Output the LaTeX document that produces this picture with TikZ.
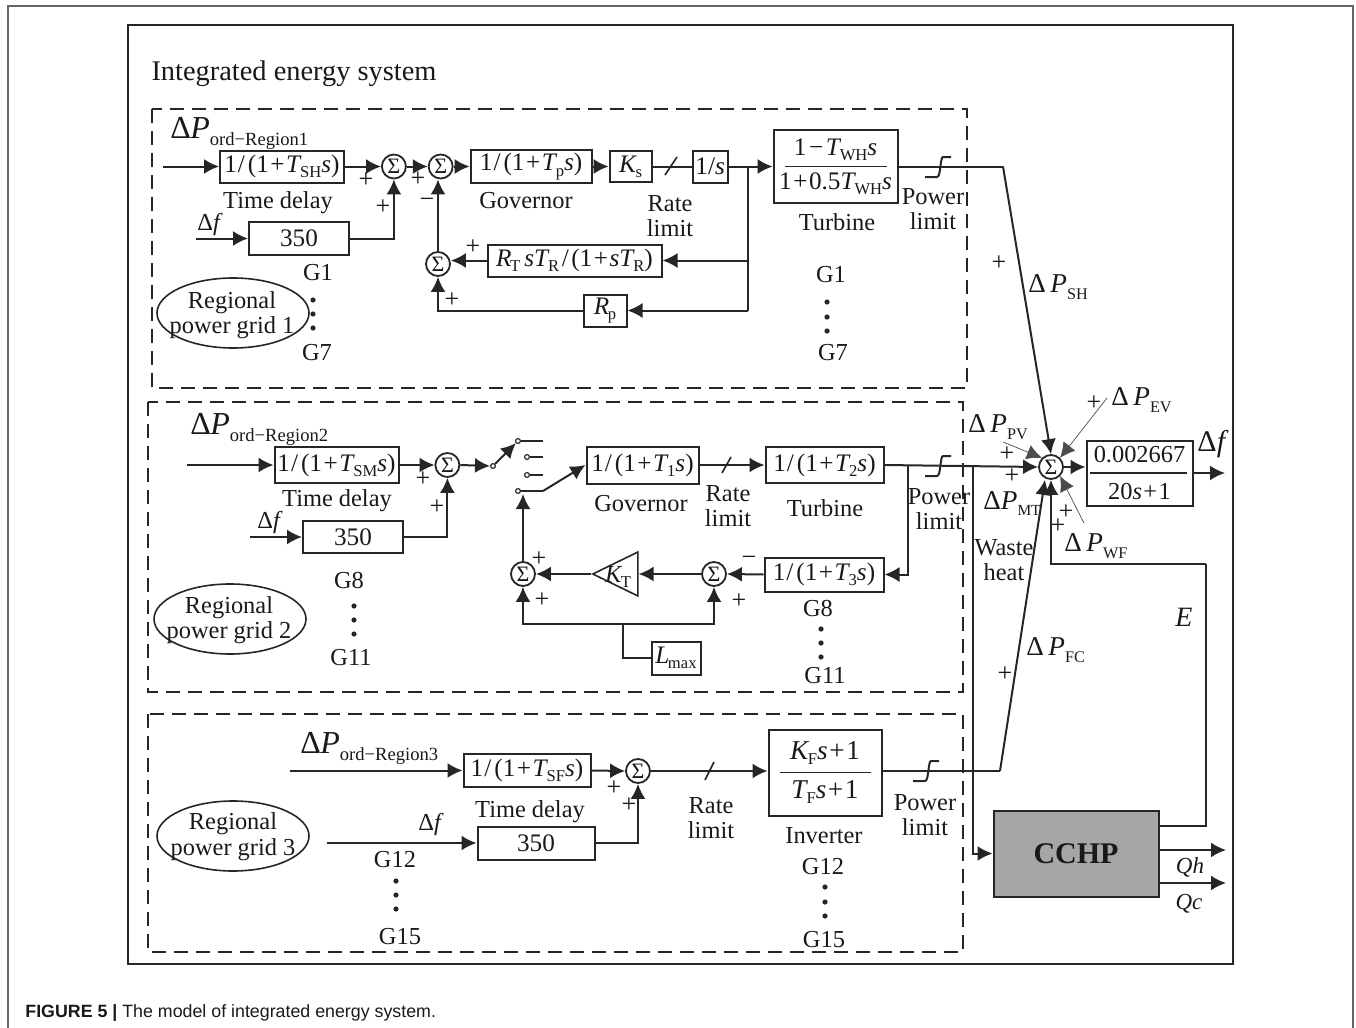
\documentclass[tikz,border=0pt]{standalone}
\usepackage{fontspec}
\setmainfont{Liberation Serif}
\setsansfont{Liberation Sans}
\usetikzlibrary{shapes.geometric, arrows.meta, positioning, calc}
\newcommand{\lowtxt}[1]{\raisebox{-0.45ex}{\fontsize{8.3}{9}\selectfont #1}}
\newcommand{\varsub}[2]{\textit{#1}\kern-0.06em\lowtxt{#2}}
\newcommand{\tplus}{\kern0.06em+\kern0.06em}
\newcommand{\lagtxt}[2]{1\kern0.04em/\kern0.12em(1\tplus\varsub{#1}{#2}\textit{s})}
\newcommand{\bigdelta}[1]{{\fontsize{16}{18}\selectfont Δ\kern-0.02em\textit{P}}\raisebox{-0.6ex}{\fontsize{9.3}{10}\selectfont ord−Region#1}}
\newcommand{\smalldelta}[1]{{\fontsize{13.6}{17}\selectfont Δ\,\textit{P}}\raisebox{-0.6ex}{\fontsize{8.1}{9}\selectfont #1}}
\newcommand{\powerlimit}[2]{\draw[wire] (#1,#2) -- ++(12,0) .. controls +(4,0) and +(-3,0) .. ++(6,-20) -- ++(8,0);}
\begin{document}
\begin{tikzpicture}[x=0.5pt, y=-0.5pt,
            every node/.style={inner sep=0pt, text=black!90, font=\fontsize{12.2}{14}\selectfont},
            block/.style={rectangle, draw=black!85, line width=1pt, fill=white, align=center, font=\fontsize{12.6}{14}\selectfont},
            sumnode/.style={circle, draw=black!85, line width=0.9pt, fill=white, minimum size=12pt, font=\fontsize{11}{12}\selectfont},
            gridnode/.style={ellipse, draw=black!85, line width=0.8pt, minimum width=76pt, minimum height=35pt},
            contact/.style={circle, draw=black!85, line width=0.6pt, fill=white, minimum size=2.4pt},
            dotnode/.style={circle, fill=black!85, minimum size=2.6pt},
            lbl/.style={align=center, yshift=-1.2pt},
            sign/.style={font=\fontsize{13}{14}\selectfont},
            region/.style={draw=black!85, line width=0.8pt, dash pattern=on 7pt off 4pt},
            wire/.style={draw=black!85, line width=1pt},
            flow/.style={wire, -{Latex[length=7.5pt,width=7.5pt]}},
            thinflow/.style={draw=black!70, line width=0.35pt, -{Latex[length=7.5pt,width=7.5pt]}}]

        \useasboundingbox (0,0) rectangle (1356,1028);
        \draw[draw=black!60, line width=0.6pt] (8,1028) -- (8,6) -- (1353,6) -- (1353,1028);
        \draw[draw=black!85, line width=1pt] (128,25) rectangle (1233,964);
        \node[lbl, font=\fontsize{14.2}{15}\selectfont] (title) at (294,71) {Integrated energy system};
        \node[font=\sffamily\fontsize{8.9}{10}\selectfont, anchor=west] (caption) at (25,1013) {\textbf{FIGURE 5 |} The model of integrated energy system.};

        % Regions
        \draw[region] (152,109) rectangle (967,388);
        \draw[region] (148,402) rectangle (963,692);
        \draw[region] (148,714) rectangle (963,952);

        % Region 1 forward path
        \node[block, minimum width=62pt, minimum height=16pt] (delayA) at (282,166.5) {\lagtxt{T}{SH}};
        \node[sumnode, right=18pt of delayA] (sumA) {Σ};
        \node[sumnode, right=10.5pt of sumA] (sumB) {Σ};
        \node[block, right=8pt of sumB, minimum width=60.5pt, minimum height=16.5pt] (govA) {\lagtxt{T}{p}};
        \node[block, right=8pt of govA, minimum width=21pt, minimum height=15.5pt] (gainA) {\varsub{K}{s}};
        \node[block, right=19.5pt of gainA, minimum width=17.5pt, minimum height=16pt] (intA) {1/\textit{s}};
        \node[block, right=22pt of intA, minimum width=62pt, minimum height=36.5pt] (turbA) {\rule[-1.1ex]{0pt}{0pt}1\kern0.1em−\kern0.1em\varsub{T}{WH}\textit{s}\\[1.2pt]1\tplus0.5\varsub{T}{WH}\textit{s}};
        \draw[wire, line width=0.6pt] ([xshift=6pt]turbA.west) -- ([xshift=-6pt]turbA.east);
        \node[block, minimum width=50pt, minimum height=16.5pt] (gainF) at (299,238.5) {350};

        % Region 1 feedback
        \node[block, minimum width=87pt, minimum height=16pt] (fbA) at (574.5,260.5) {\varsub{R}{T}\,\textit{s}\varsub{T}{R}\kern0.1em/\kern0.1em(1\tplus\textit{s}\varsub{T}{R})};
        \node[block, minimum width=21.5pt, minimum height=16pt] (droopA) at (605,310.5) {\varsub{R}{p}};
        \node[sumnode] (sumC) at (438,264) {Σ};
        \node[gridnode] (gridA) at (233,313) {};
        \node[lbl] (gridAa) at (232,300) {Regional};
        \node[lbl] (gridAb) at (232,325) {power grid 1};

        \coordinate (inA) at (163,166.5);
        \coordinate (inF) at (196,238.5);
        \coordinate (tapA) at (748,166.5);
        \coordinate (outA) at (1003,166.5);
        \draw[flow] (inA) -- (delayA.west);
        \draw[flow] (delayA.east) -- (sumA.west);
        \draw[flow] (sumA.east) -- (sumB.west);
        \draw[flow] (sumB.east) -- (govA.west);
        \draw[flow] (govA.east) -- (gainA.west);
        \draw[wire] (gainA.east) -- (intA.west);
        \draw[flow] (intA.east) -- (turbA.west);
        \draw[flow] (inF) -- (gainF.west);
        \draw[flow] (gainF.east) -| (sumA.south);
        \draw[wire] (tapA) -- (tapA |- droopA.east);
        \draw[flow] (tapA |- fbA.east) -- (fbA.east);
        \draw[flow] (tapA |- droopA.east) -- (droopA.east);
        \draw[flow] (fbA.west) -- (sumC.east |- fbA.west);
        \draw[flow] (droopA.west) -| (sumC.south);
        \draw[flow] (sumC.north) -- (sumC.north |- sumB.south);
        \draw[wire, line width=0.8pt] (665,175) -- (677,157);
        \powerlimit{925}{177}

        % Region 1 labels
        \node[lbl, anchor=west] (refA) at (170,131) {\bigdelta{1}};
        \node[lbl] (tdA) at (278,200) {Time delay};
        \node[lbl] (lfA) at (210,222) {Δ\textit{f}};
        \node[lbl] (lgA) at (526,198) {Governor};
        \node[lbl] (rlA) at (670,214) {Rate\\[-1.5pt]limit};
        \node[lbl] (ltA) at (837,220) {Turbine};
        \node[lbl] (plA) at (933,207) {Power\\[-1.5pt]limit};
        \node[lbl] (gaA) at (318,270) {G1};
        \node[lbl] (gbA) at (317,350) {G7};
        \node[lbl] (gaB) at (831,272) {G1};
        \node[lbl] (gbB) at (833,350) {G7};
        \foreach \dx/\dy in {313/300, 313/314, 313/328, 827/302, 827/317, 827/331,
                             354/606, 354/620, 354/634, 821/629, 821/643, 821/657,
                             396/881, 396/895, 396/909, 825/887, 825/902, 825/916}
            \node[dotnode] (dot\dx-\dy) at (\dx,\dy) {};
        \node[sign] (pa) at (366,180) {+};
        \node[sign] (pb) at (383,207) {+};
        \node[sign] (pc) at (418,179) {+};
        \node[sign] (pd) at (427,203) {−};
        \node[sign] (pe) at (473,247) {+};
        \node[sign] (pf) at (452,300) {+};

        % Region 2 forward path
        \node[block, minimum width=62pt, minimum height=18pt] (delayB) at (336.5,465) {\lagtxt{T}{SM}};
        \node[sumnode, right=17.5pt of delayB] (sumD) {Σ};
        \node[block, minimum width=56pt, minimum height=18.5pt] (govB) at (642.5,465) {\lagtxt{T}{1}};
        \node[block, minimum width=59pt, minimum height=18pt] (turbB) at (824.5,465) {\lagtxt{T}{2}};
        \node[block, minimum width=50pt, minimum height=16pt] (gainG) at (353,537) {350};

        % Switch
        \node[contact] (swIn) at (493,466) {};
        \node[contact] (swA) at (518,441) {};
        \node[contact] (swB) at (527,457) {};
        \node[contact] (swC) at (527,475) {};
        \node[contact] (swD) at (518,491) {};
        \coordinate (swAe) at (543,441);
        \coordinate (swBe) at (543,457);
        \coordinate (swCe) at (543,475);
        \coordinate (swDe) at (543,491);
        \draw[wire] (swA) -- (swAe);
        \draw[wire] (swB) -- (swBe);
        \draw[wire] (swC) -- (swCe);
        \draw[wire] (swD) -- (swDe);
        \draw[flow] (swIn) -- (swA);
        \draw[flow] (swDe) -- (govB.west);

        % Region 2 feedback
        \node[block, minimum width=59.5pt, minimum height=17pt] (fbB) at (824,574.5) {\lagtxt{T}{3}};
        \node[sumnode] (sumE) at (714,574) {Σ};
        \node[isosceles triangle, isosceles triangle apex angle=52, shape border rotate=180, draw=black!85, line width=0.8pt, fill=white, minimum height=22.5pt, anchor=apex] (ampB) at (591,574) {};
        \node[lbl] (ampBt) at (618,575) {\varsub{K}{T}};
        \node[sumnode] (sumF) at (523,574) {Σ};
        \node[block, minimum width=24.5pt, minimum height=16.5pt] (limB) at (676,658) {\varsub{L}{max}};
        \node[gridnode] (gridB) at (230,619) {};
        \node[lbl] (gridBa) at (229,605) {Regional};
        \node[lbl] (gridBb) at (229,630) {power grid 2};

        \coordinate (inB) at (187,465);
        \coordinate (inG) at (250,537);
        \coordinate (tapB) at (908,465);
        \coordinate (midB) at (623,624);
        \draw[flow] (inB) -- (delayB.west);
        \draw[flow] (delayB.east) -- (sumD.west);
        \draw[flow] (sumD.east) -- (swIn.west);
        \draw[flow] (inG) -- (gainG.west);
        \draw[flow] (gainG.east) -| (sumD.south);
        \draw[flow] (govB.east) -- (turbB.west);
        \draw[flow] (tapB) |- (fbB.east);
        \draw[flow] (fbB.west) -- (sumE.east);
        \draw[flow] (sumE.west) -- (ampB.east);
        \draw[flow] (ampB.apex) -- (sumF.east);
        \draw[flow] (sumF.north) -- (swD.south -| sumF.north);
        \draw[flow] (midB) -| (sumF.south);
        \draw[flow] (midB) -| (sumE.south);
        \draw[wire] (midB) |- (limB.west);
        \draw[wire, line width=0.8pt] (722,473) -- (731,457);
        \powerlimit{925}{476}

        % Region 2 labels
        \node[lbl, anchor=west] (refB) at (190,427) {\bigdelta{2}};
        \node[lbl] (tdB) at (337,498) {Time delay};
        \node[lbl] (lfB) at (270,520) {Δ\textit{f}};
        \node[lbl] (lgB) at (641,501) {Governor};
        \node[lbl] (rlB) at (728,504) {Rate\\[-1.5pt]limit};
        \node[lbl] (ltB) at (825,506) {Turbine};
        \node[lbl] (plB) at (939,507) {Power\\[-1.5pt]limit};
        \node[lbl] (gaC) at (349,578) {G8};
        \node[lbl] (gbC) at (351,655) {G11};
        \node[lbl] (gaD) at (818,606) {G8};
        \node[lbl] (gbD) at (825,673) {G11};
        \node[sign] (pg) at (423,479) {+};
        \node[sign] (ph) at (437,507) {+};
        \node[sign] (pi) at (539,559) {+};
        \node[sign] (pj) at (542,600) {+};
        \node[sign] (pk) at (749,561) {−};
        \node[sign] (pl) at (739,601) {+};

        % Region 3
        \node[block, minimum width=63.5pt, minimum height=16.5pt] (delayC) at (527,770.5) {\lagtxt{T}{SF}};
        \node[sumnode] (sumG) at (638,771) {Σ};
        \node[block, minimum width=56.5pt, minimum height=43pt, font=\fontsize{13.6}{15}\selectfont] (invC) at (825,772.5) {\rule[-1.1ex]{0pt}{0pt}\varsub{K}{F}\textit{s}\tplus1\\[2.5pt]\varsub{T}{F}\textit{s}\tplus1};
        \draw[wire, line width=0.6pt] ([xshift=6pt]invC.west) -- ([xshift=-6pt]invC.east);
        \node[block, minimum width=58.5pt, minimum height=16.5pt] (gainH) at (536,843) {350};
        \node[gridnode] (gridC) at (233,836) {};
        \node[lbl] (gridCa) at (233,821) {Regional};
        \node[lbl] (gridCb) at (233,847) {power grid 3};

        \coordinate (inC) at (290,770.5);
        \coordinate (inH) at (327,843);
        \draw[flow] (inC) -- (delayC.west);
        \draw[flow] (delayC.east) -- (sumG.west);
        \draw[flow] (sumG.east) -- (sumG.east -| invC.west);
        \draw[flow] (inH) -- (gainH.west);
        \draw[flow] (gainH.east) -| (sumG.south);
        \draw[wire, line width=0.8pt] (705,780) -- (714,762);
        \powerlimit{913}{781}

        \node[lbl, anchor=west] (refC) at (300,746) {\bigdelta{3}};
        \node[lbl] (tdC) at (530,809) {Time delay};
        \node[lbl] (lfC) at (431,822) {Δ\textit{f}};
        \node[lbl] (rlC) at (711,816) {Rate\\[-1.5pt]limit};
        \node[lbl] (ltC) at (824,833) {Inverter};
        \node[lbl] (plC) at (925,813) {Power\\[-1.5pt]limit};
        \node[lbl] (gaE) at (395,857) {G12};
        \node[lbl] (gbE) at (400,934) {G15};
        \node[lbl] (gaF) at (823,864) {G12};
        \node[lbl] (gbF) at (824,937) {G15};
        \node[sign] (pm) at (614,788) {+};
        \node[sign] (pn) at (629,805) {+};

        % Main summing point and CCHP
        \node[sumnode] (sumM) at (1051,467) {Σ};
        \node[block, minimum width=53pt, minimum height=32.5pt, font=\fontsize{12.2}{14}\selectfont] (loadM) at (1139.5,473) {\rule[-1.1ex]{0pt}{0pt}0.002667\\[3pt]20\textit{s}\tplus1};
        \draw[wire, line width=0.6pt] ([xshift=2pt]loadM.west) -- ([xshift=-3.5pt]loadM.east);
        \node[block, fill=black!35, minimum width=82.5pt, minimum height=43pt, font=\fontsize{15}{17}\selectfont\bfseries] (cchp) at (1076,853.5) {CCHP};

        \coordinate (outM) at (1225,473);
        \coordinate (bendFC) at (1000,771);
        \coordinate (wasteTap) at (973,465);
        \coordinate (qhEnd) at (1226,850);
        \coordinate (qcEnd) at (1226,883);
        \coordinate (eCorner) at (1206,564);
        \coordinate (pvEnd) at (1003,442);
        \coordinate (evEnd) at (1107,398);
        \coordinate (wfEnd) at (1084,523);

        \draw[wire] (turbA.east) -- (outA);
        \draw[flow] (outA) -- (sumM.north);
        \draw[flow] (turbB.east) -- (sumM.west);
        \draw[wire] (invC.east |- bendFC) -- (bendFC);
        \draw[flow] (bendFC) -- ([xshift=-3pt]sumM.south);
        \draw[flow] (wasteTap) |- (cchp.west);
        \draw[flow] (sumM.east) -- (sumM.east -| loadM.west);
        \draw[flow] (loadM.east |- outM) -- (outM);
        \draw[wire] (cchp.east |- 0,826) -| (eCorner);
        \draw[flow] (eCorner) -| ([xshift=0pt]sumM.south);
        \draw[flow] (cchp.east |- qhEnd) -- (qhEnd);
        \draw[flow] (cchp.east |- qcEnd) -- (qcEnd);
        \draw[thinflow] (pvEnd) -- (sumM.north west);
        \draw[thinflow] (evEnd) -- (sumM.north east);
        \draw[thinflow] (wfEnd) -- (sumM.south east);

        \node[lbl, anchor=west] (lblSH) at (1028,285) {\smalldelta{SH}};
        \node[lbl, anchor=west] (lblPV) at (968,425) {\smalldelta{PV}};
        \node[lbl, anchor=west] (lblEV) at (1111,398) {\smalldelta{EV}};
        \node[lbl, anchor=west] (lblMT) at (983,501) {{\fontsize{13.6}{17}\selectfont Δ\textit{P}}\raisebox{-0.6ex}{\fontsize{7.7}{9}\selectfont MT}};
        \node[lbl, anchor=west] (lblWF) at (1064,544) {\smalldelta{WF}};
        \node[lbl, anchor=west] (lblFC) at (1026,648) {\smalldelta{FC}};
        \node[lbl, font=\fontsize{15}{17}\selectfont] (lblDf) at (1213,442) {Δ\textit{f}};
        \node[lbl] (lblWH) at (1004,558) {Waste\\[-1.5pt]heat};
        \node[lbl, font=\fontsize{14}{16}\selectfont\itshape] (lblE) at (1184,615) {E};
        \node[lbl, font=\fontsize{11.5}{13}\selectfont\itshape] (lblQh) at (1190,865) {Qh};
        \node[lbl, font=\fontsize{11.5}{13}\selectfont\itshape] (lblQc) at (1189,901) {Qc};
        \node[sign] (pq) at (999,263) {+};
        \node[sign] (pr) at (1007,454) {+};
        \node[sign] (ps) at (1012,476) {+};
        \node[sign] (pt) at (1094,403) {+};
        \node[sign] (pu) at (1066,512) {+};
        \node[sign] (pv) at (1058,526) {+};
        \node[sign] (pw) at (1005,674) {+};

    \end{tikzpicture}
\end{document}
